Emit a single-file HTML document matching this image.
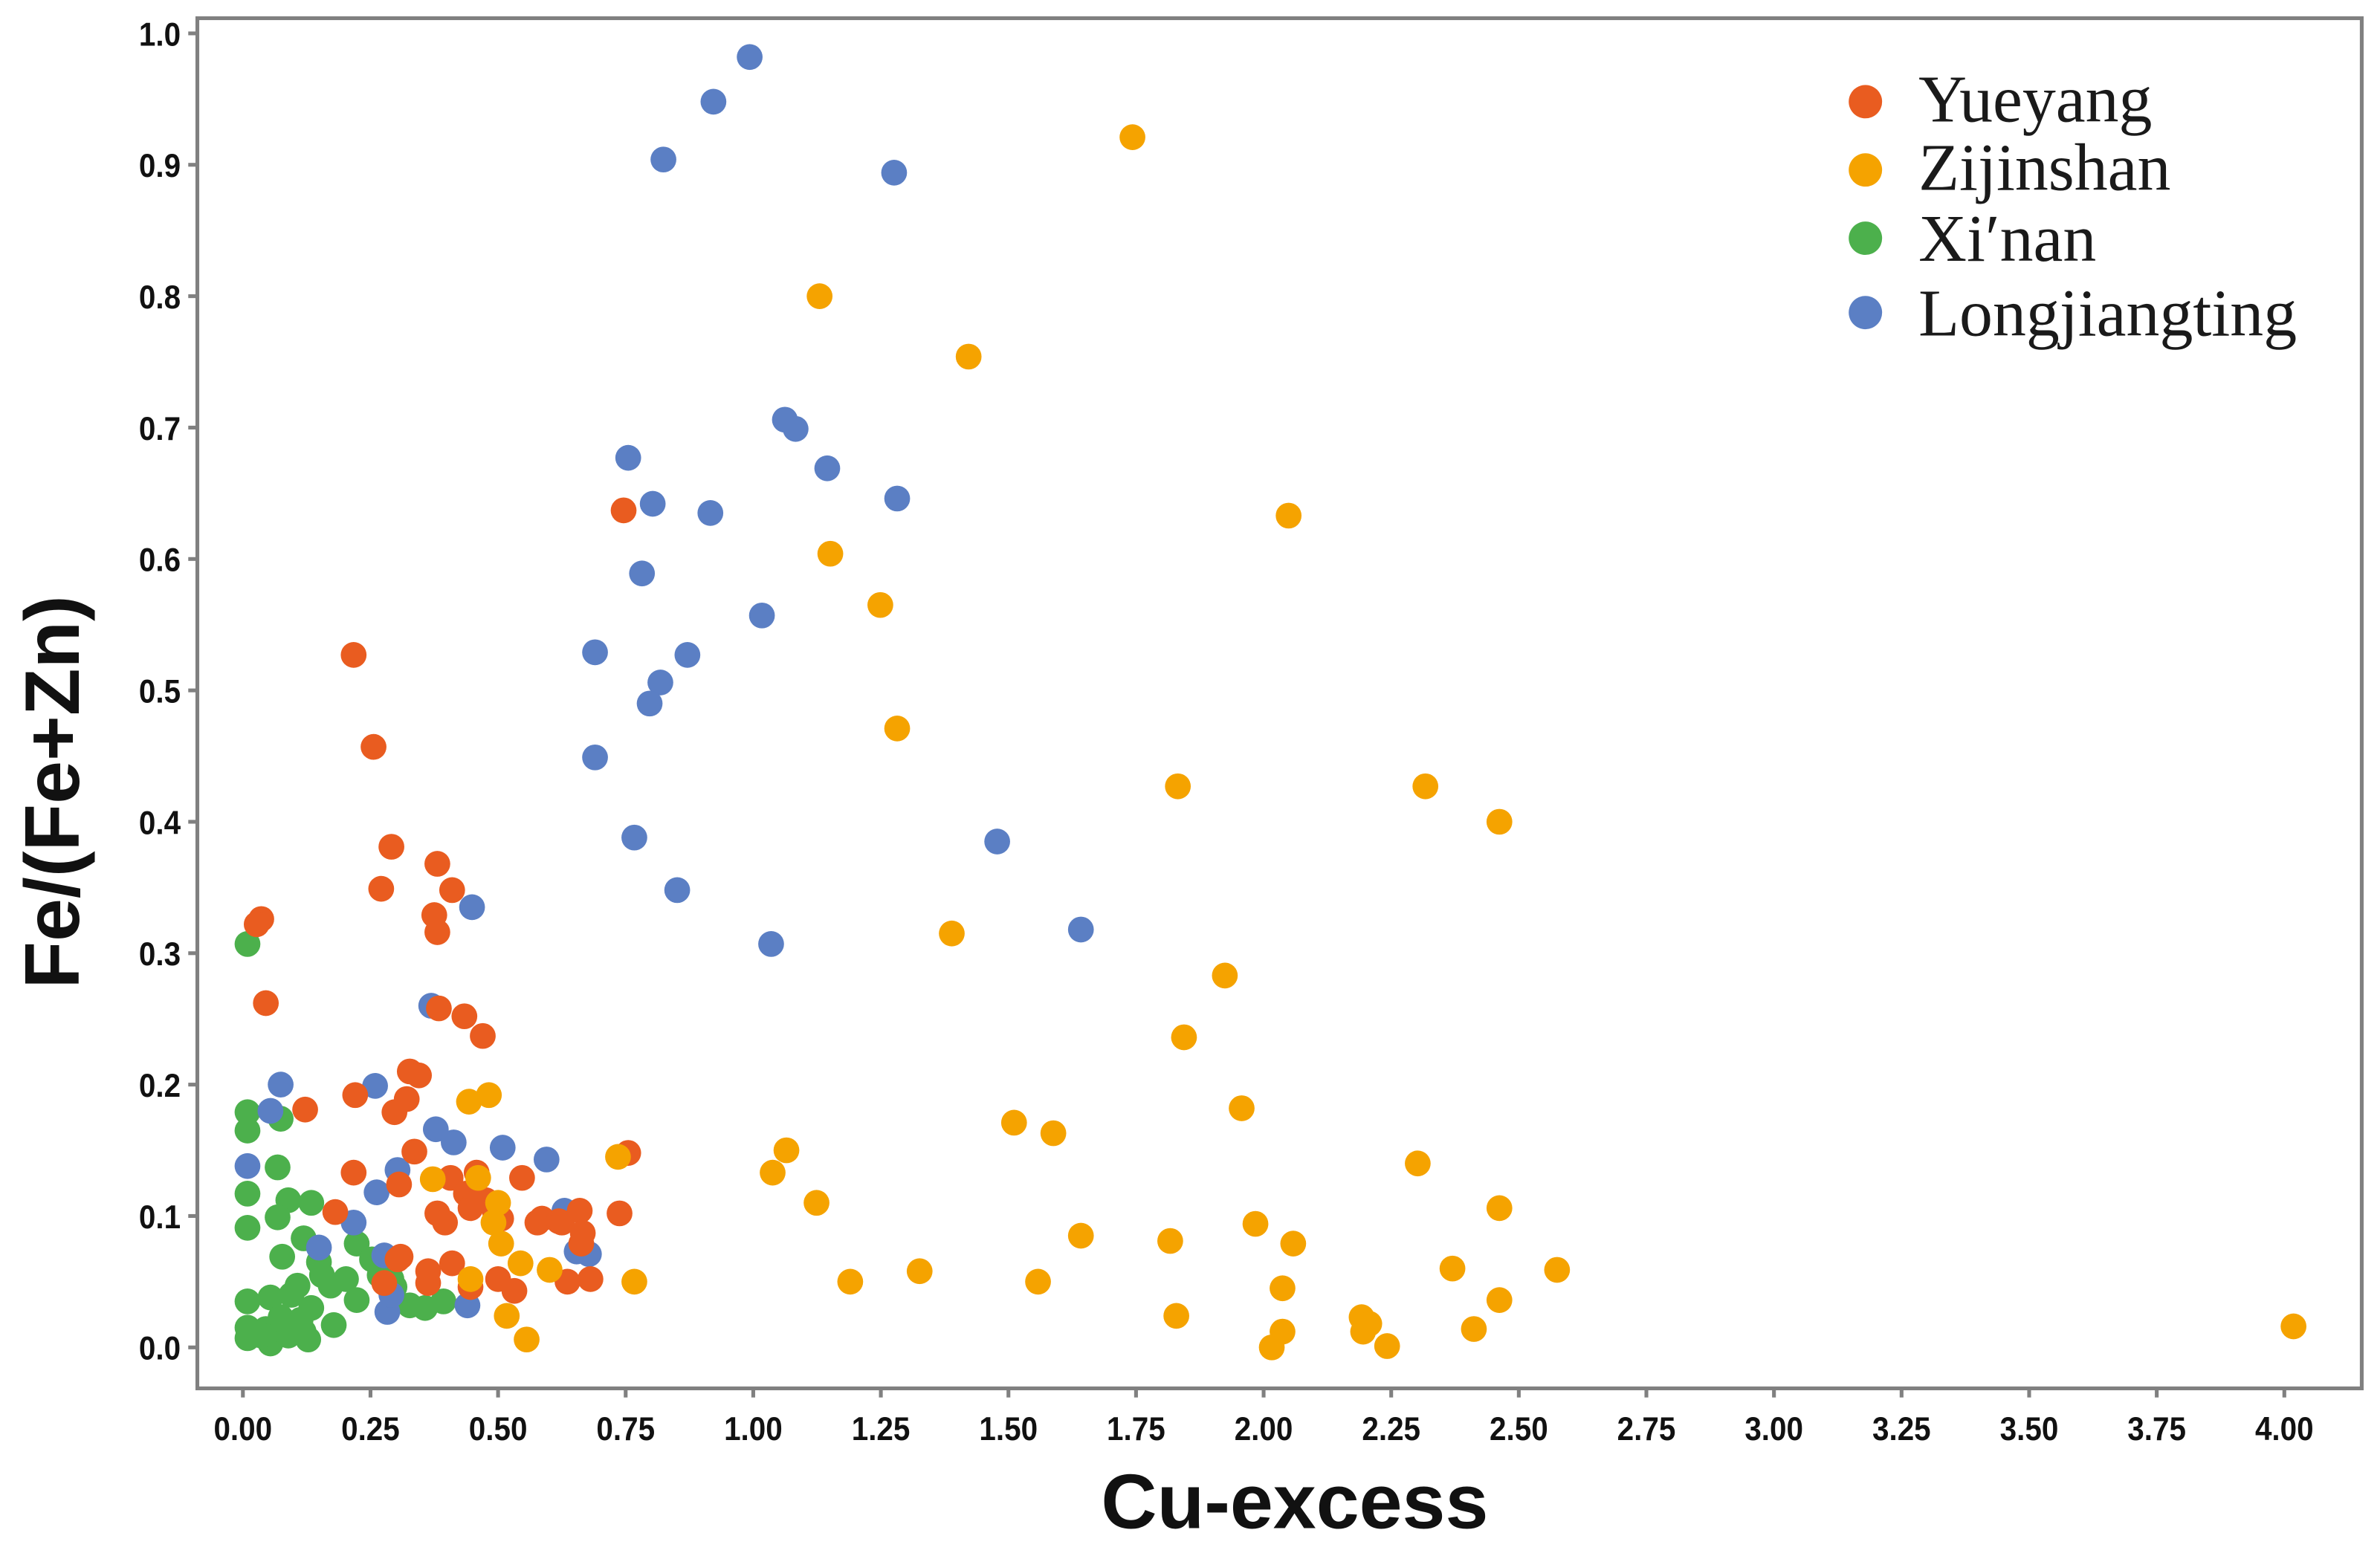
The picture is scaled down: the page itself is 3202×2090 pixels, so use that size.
<!DOCTYPE html>
<html><head><meta charset="utf-8"><style>
html,body{margin:0;padding:0;background:#fff;}
svg{display:block;}
</style></head><body>
<svg id="chart" width="3202" height="2090" viewBox="0 0 1568 1023.5" xmlns="http://www.w3.org/2000/svg">
<rect x="0" y="0" width="1568" height="1023.5" fill="#fff"/>
<rect x="130" y="12" width="1426" height="903" fill="#fff" stroke="#808080" stroke-width="2.5"/>
<g id="yticks"></g>
<g id="xticks"></g>
<text x="853" y="1007" text-anchor="middle" font-family="Liberation Sans, sans-serif" font-weight="bold" font-size="51" fill="#111">Cu-excess</text>
<text transform="translate(52,522) rotate(-90)" text-anchor="middle" font-family="Liberation Sans, sans-serif" font-weight="bold" font-size="51" fill="#111">Fe/(Fe+Zn)</text>
<g id="points"></g>
<g font-family="Liberation Serif, serif" font-size="44" fill="#1a1a1a">
<g><circle cx="1229" cy="67" r="11" fill="#E95C20"/><text x="1264" y="80">Yueyang</text></g>
<g><circle cx="1229" cy="112" r="11" fill="#F5A300"/><text x="1264" y="125">Zijinshan</text></g>
<g><circle cx="1229" cy="157" r="11" fill="#4CB04C"/><text x="1264" y="172">Xi′nan</text></g>
<g><circle cx="1229" cy="206" r="11" fill="#5B7FC4"/><text x="1264" y="221">Longjiangting</text></g>
</g>
</svg>
<script>
const xTicks = [0,0.25,0.5,0.75,1,1.25,1.5,1.75,2,2.25,2.5,2.75,3,3.25,3.5,3.75,4];
const xTickLabels = ["0.00","0.25","0.50","0.75","1.00","1.25","1.50","1.75","2.00","2.25","2.50","2.75","3.00","3.25","3.50","3.75","4.00"];
const yTicks = [0,0.1,0.2,0.3,0.4,0.5,0.6,0.7,0.8,0.9,1.0];
const yTickLabels = ["0.0","0.1","0.2","0.3","0.4","0.5","0.6","0.7","0.8","0.9","1.0"];
const seriesNames = ["Xi'nan","Longjiangting","Yueyang","Zijinshan"];
const xinanX = [0.009,0.009,0.009,0.074,0.068,0.009,0.009,0.089,0.134,0.068,0.119,0.223,0.077,0.149,0.155,0.202,0.172,0.107,0.095,0.054,0.009,0.223,0.134,0.178,0.009,0.009,0.045,0.054,0.089,0.119,0.128,0.036,0.253,0.268,0.291,0.327,0.357,0.393,0.113,0.074,0.297];
const xinanY = [0.307,0.179,0.165,0.174,0.137,0.117,0.091,0.112,0.110,0.099,0.083,0.079,0.069,0.065,0.055,0.052,0.047,0.047,0.040,0.038,0.035,0.036,0.030,0.017,0.015,0.007,0.014,0.003,0.009,0.012,0.006,0.009,0.067,0.055,0.052,0.032,0.030,0.035,0.021,0.023,0.046];
const longX = [0.993,0.922,0.824,1.276,1.062,1.083,0.755,0.803,1.145,1.282,0.916,0.782,1.017,0.690,0.818,0.871,0.797,0.690,1.478,0.767,0.851,0.449,1.035,1.642,0.369,0.074,0.054,0.259,0.009,0.378,0.413,0.509,0.595,0.217,0.262,0.303,0.149,0.630,0.277,0.283,0.654,0.678,0.440,0.291];
const longY = [0.982,0.948,0.904,0.894,0.706,0.699,0.677,0.642,0.669,0.646,0.635,0.589,0.557,0.529,0.506,0.527,0.490,0.449,0.385,0.388,0.348,0.335,0.307,0.318,0.260,0.200,0.180,0.199,0.138,0.166,0.156,0.152,0.143,0.095,0.118,0.135,0.076,0.104,0.070,0.027,0.073,0.071,0.032,0.040];
const yueX = [0.746,0.217,0.256,0.291,0.381,0.271,0.410,0.375,0.381,0.036,0.027,0.045,0.384,0.434,0.470,0.327,0.345,0.220,0.321,0.297,0.122,0.336,0.755,0.217,0.547,0.458,0.407,0.306,0.381,0.396,0.437,0.446,0.476,0.494,0.506,0.181,0.577,0.586,0.619,0.625,0.660,0.738,0.666,0.663,0.309,0.363,0.410,0.500,0.532,0.446,0.363,0.636,0.681,0.277,0.303];
const yueY = [0.637,0.527,0.457,0.381,0.368,0.349,0.348,0.329,0.316,0.326,0.322,0.262,0.258,0.252,0.237,0.210,0.207,0.192,0.189,0.179,0.181,0.149,0.148,0.133,0.129,0.133,0.129,0.124,0.102,0.095,0.117,0.106,0.112,0.103,0.098,0.103,0.095,0.098,0.096,0.095,0.104,0.102,0.087,0.079,0.069,0.058,0.064,0.052,0.043,0.046,0.049,0.050,0.052,0.049,0.067];
const zijX = [1.743,1.130,1.422,2.049,1.151,1.249,1.282,1.832,2.317,2.462,1.389,1.924,1.844,1.957,1.511,1.588,2.302,1.065,1.038,1.124,2.462,1.642,1.817,1.984,2.058,1.326,2.370,2.575,1.190,1.558,2.037,2.462,1.829,2.192,2.195,2.207,2.037,2.412,2.242,2.016,4.018,0.482,0.443,0.735,0.372,0.461,0.500,0.491,0.506,0.544,0.601,0.767,0.446,0.517,0.556];
const zijY = [0.921,0.800,0.754,0.633,0.604,0.565,0.471,0.427,0.427,0.400,0.315,0.283,0.236,0.182,0.171,0.163,0.140,0.150,0.133,0.110,0.106,0.085,0.081,0.094,0.079,0.058,0.060,0.059,0.050,0.050,0.045,0.036,0.024,0.023,0.012,0.018,0.012,0.014,0.001,0.000,0.016,0.192,0.187,0.145,0.128,0.129,0.110,0.095,0.079,0.064,0.059,0.050,0.052,0.024,0.006];

const NS = "http://www.w3.org/2000/svg";
function sx(v){ return 160 + v*336.25; }
function sy(v){ return 888 - v*866; }

const yg = document.getElementById('yticks');
yTicks.forEach((t,i)=>{
  const l = document.createElementNS(NS,'line');
  l.setAttribute('x1',124); l.setAttribute('x2',130);
  l.setAttribute('y1',sy(t)); l.setAttribute('y2',sy(t));
  l.setAttribute('stroke','#808080'); l.setAttribute('stroke-width','2.5');
  
  
  yg.appendChild(l);
  const tx = document.createElementNS(NS,'text');
  tx.setAttribute('transform','translate(119,'+(sy(t)+8)+') scale(0.9,1)');
  tx.setAttribute('text-anchor','end');
  tx.setAttribute('font-family','Liberation Sans, sans-serif');
  tx.setAttribute('font-weight','bold'); tx.setAttribute('font-size','22');
  tx.setAttribute('fill','#111');
  tx.textContent = yTickLabels[i];
  
  
  yg.appendChild(tx);
});
const xg = document.getElementById('xticks');
xTicks.forEach((t,i)=>{
  const l = document.createElementNS(NS,'line');
  l.setAttribute('x1',sx(t)); l.setAttribute('x2',sx(t));
  l.setAttribute('y1',915); l.setAttribute('y2',921);
  l.setAttribute('stroke','#808080'); l.setAttribute('stroke-width','2.5');
  
  
  xg.appendChild(l);
  const tx = document.createElementNS(NS,'text');
  tx.setAttribute('transform','translate('+sx(t)+',949) scale(0.9,1)');
  tx.setAttribute('text-anchor','middle');
  tx.setAttribute('font-family','Liberation Sans, sans-serif');
  tx.setAttribute('font-weight','bold'); tx.setAttribute('font-size','22');
  tx.setAttribute('fill','#111');
  tx.textContent = xTickLabels[i];
  
  
  xg.appendChild(tx);
});
const pg = document.getElementById('points');
function drawSeries(xs, ys, color, name){
  xs.forEach((x,i)=>{
    const c = document.createElementNS(NS,'circle');
    c.setAttribute('cx',sx(x)); c.setAttribute('cy',sy(ys[i]));
    c.setAttribute('r',8.5); c.setAttribute('fill',color);
    
    
    pg.appendChild(c);
  });
}
drawSeries(xinanX, xinanY, '#4CB04C', 'point-xinan');
drawSeries(longX, longY, '#5B7FC4', 'point-longjiangting');
drawSeries(yueX, yueY, '#E95C20', 'point-yueyang');
drawSeries(zijX, zijY, '#F5A300', 'point-zijinshan');
</script>
</body></html>
